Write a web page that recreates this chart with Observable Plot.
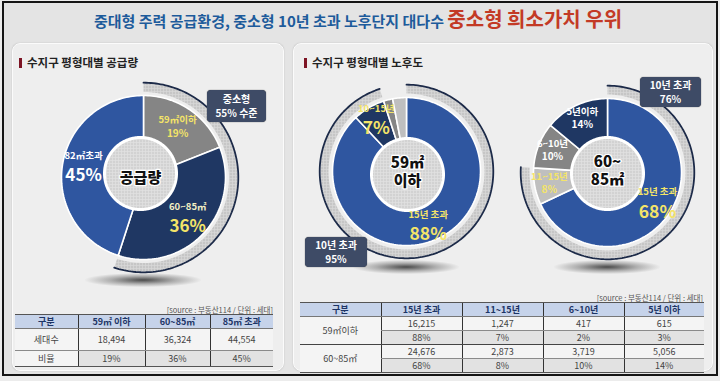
<!DOCTYPE html>
<html><head><meta charset="utf-8">
<script src="https://cdn.jsdelivr.net/npm/d3@7"></script>
<script src="https://cdn.jsdelivr.net/npm/@observablehq/plot@0.6"></script>
<style>
body{margin:0;width:720px;height:381px;overflow:hidden;background:#ececec;font-family:"Noto Sans CJK KR","Noto Sans",sans-serif;position:relative;}
.abs{position:absolute;}
#frame{left:2px;top:1px;width:716px;height:375px;border:2px solid #151515;box-sizing:border-box;background:#e4e4e4;}
.panel{background:#eeeeee;border:1.5px solid #fbfbfb;border-radius:8px;box-sizing:border-box;box-shadow:0 0 1.5px #b8b8b8;}
#title{left:0;top:5px;width:716px;text-align:center;font-weight:700;white-space:nowrap;line-height:28px;}
#title .b{color:#1d5b9b;font-size:15px;}
#title .r{color:#c33a25;font-size:20px;}
.head{font-size:11.5px;font-weight:700;color:#222;white-space:nowrap;line-height:14px;}
.head i{display:inline-block;width:3px;height:10px;background:#7d1424;margin-right:5px;vertical-align:-1px;}
.box{background:#3e4b66;border-radius:4px;color:#fff;font-size:10px;font-weight:700;text-align:center;display:flex;flex-direction:column;justify-content:center;line-height:14px;box-shadow:0 0 1px #222;}
.shadow{background:radial-gradient(ellipse at center, rgba(20,20,20,0.75) 0%, rgba(60,60,60,0.35) 40%, rgba(200,200,200,0) 72%);}
.src{font-size:7.5px;color:#555;white-space:nowrap;text-align:right;}
table{border-collapse:collapse;font-size:9px;color:#444;text-align:center;table-layout:fixed;}
table th{background-color:#c6d3ea;color:#1d3566;font-weight:700;border-top:1.5px solid #555;border-bottom:1px solid #777;padding:0;}
table td{padding:0;border-bottom:1px solid #8a8a8a;}
table th+th, table td+td{border-left:1px solid #333;}
table tr.last td{border-bottom:1.5px solid #555;}
td.n{background:#f4f4f4;} td.p{background:#e2e2e2;} td.k{background:#f4f4f4;}
</style></head>
<body>
<svg width="0" height="0" style="position:absolute">
 <defs>
  <pattern id="hatchRing" width="3" height="3" patternUnits="userSpaceOnUse">
   <rect width="3" height="3" fill="#cfcfcf"/>
   <rect width="1" height="1" fill="#a4a4a4"/>
   <rect x="1.5" y="1.5" width="1" height="1" fill="#efefef"/>
  </pattern>
  <pattern id="hatchHole" width="3" height="3" patternUnits="userSpaceOnUse">
   <rect width="3" height="3" fill="#dadada"/>
   <rect width="1" height="1" fill="#b4b4b4"/>
   <rect x="1.5" y="1.5" width="1" height="1" fill="#f4f4f4"/>
  </pattern>
 </defs>
</svg>
<div id="frame" class="abs"></div>
<div class="abs panel" style="left:12px;top:43px;width:272px;height:328px"></div>
<div class="abs panel" style="left:293px;top:43px;width:420px;height:328px"></div>
<div id="title" class="abs"><span class="b">중대형 주력 공급환경, 중소형 10년 초과 노후단지 대다수 </span><span class="r">중소형 희소가치 우위</span></div>
<div class="abs head" style="left:19px;top:55px"><i></i>수지구 평형대별 공급량</div>
<div class="abs head" style="left:304px;top:55px"><i></i>수지구 평형대별 노후도</div>
<div class="abs shadow" style="left:85px;top:273px;width:116px;height:14px"></div>
<div class="abs shadow" style="left:353px;top:260px;width:106px;height:14px"></div>
<div class="abs shadow" style="left:554px;top:260px;width:106px;height:14px"></div>
<div id="d1" class="abs" style="left:23px;top:62px"></div>
<div id="d2" class="abs" style="left:306px;top:71px"></div>
<div id="d3" class="abs" style="left:507px;top:72px"></div>
<div id="b1" class="abs box" style="left:207px;top:90px;width:59px;height:32px"></div>
<div id="b2" class="abs box" style="left:305px;top:237px;width:62px;height:30px"></div>
<div id="b3" class="abs box" style="left:640px;top:77px;width:61px;height:30px"></div>
<div class="abs src" style="left:100px;top:304px;width:173px">[source : 부동산114 / 단위 : 세대]</div>
<div class="abs src" style="left:500px;top:292px;width:203px">[source : 부동산114 / 단위 : 세대]</div>
<div id="t1" class="abs" style="left:15px;top:314px"></div>
<div id="t2" class="abs" style="left:300px;top:302px"></div>
<script>
// ---- data ----
const supplyCats = ["59㎡이하", "60~85㎡", "82㎡초과"];
const supplyShares = [19, 36, 45];
const supplyTableCols = ["59㎡ 이하", "60~85㎡", "85㎡ 초과"];
const supplyUnits = [18494, 36324, 44554];

const ageCats = ["15년 초과", "11~15년", "6~10년", "5년 이하"];
const age59Labels = ["15년 초과", "10~15년", "", ""];
const age59Units = [16215, 1247, 417, 615];
const age59Shares = [88, 7, 2, 3];
const age85Labels = ["15년 초과", "11~15년", "6~10년", "5년이하"];
const age85Units = [24676, 2873, 3719, 5056];
const age85Shares = [68, 8, 10, 14];
const sizeGroups = ["59㎡이하", "60~85㎡"];

// ---- styles ----
const BLUE = "#2f56a0", NAVY = "#1f3763", GRAY = "#858585", LGRAY = "#bfbfbf";
const TONE = {yellow: "#f4e468", pale: "#f4f0c4", white: "#ffffff"};

const rad = d => d * Math.PI / 180;
const toXY = (r, deg) => [r * Math.sin(rad(deg)), -r * Math.cos(rad(deg))];
function arcPts(r, a0, a1) {
  const n = Math.max(2, Math.ceil(Math.abs(a1 - a0) / 1.5));
  return d3.range(n + 1).map(i => toXY(r, a0 + (a1 - a0) * i / n));
}

function donut(o) {
  const total = d3.sum(o.shares);
  let acc = 0;
  const slices = o.shares.map((s, i) => {
    const a0 = acc / total * 360; acc += s; const a1 = acc / total * 360;
    return {cat: o.cats[i], share: s, a0, a1, mid: (a0 + a1) / 2, name: o.names[i],
            nameTone: o.nameTones[i], pctTone: o.pctTones[i], big: o.big[i]};
  });
  const slicePts = slices.flatMap(d => [[0, 0], ...arcPts(o.R, d.a0, d.a1)].map(([x, y]) => ({cat: d.cat, x, y})));
  const ringEnd = slices[o.ringN - 1].a1;
  const ringPts = [...arcPts(o.ringOut, 0, ringEnd), ...arcPts(o.ringIn, 0, ringEnd).reverse()].map(([x, y]) => ({x, y}));
  const ringEdge = arcPts(o.ringOut + 0.8, 0, ringEnd).map(([x, y]) => ({x, y}));
  const holePts = arcPts(o.holeR, 0, 360).map(([x, y]) => ({x: x + o.holeDx, y: y + o.holeDy}));
  const labels = slices.filter(d => d.name).map(d => {
    const [x, y] = toXY(o.R * o.labelK, d.mid);
    return {...d, x, y, pct: d.share + "%"};
  });
  const marks = [
    Plot.line(ringPts, {x: "x", y: "y", curve: "linear-closed", fill: "url(#hatchRing)", stroke: "none"}),
    Plot.line(ringEdge, {x: "x", y: "y", stroke: "#1c2a48", strokeWidth: 1.8}),
    Plot.line(slicePts, {x: "x", y: "y", z: "cat", fill: "cat", curve: "linear-closed", stroke: "white", strokeWidth: 1.6}),
    Plot.line(holePts, {x: "x", y: "y", curve: "linear-closed", fill: "url(#hatchHole)", stroke: "white", strokeWidth: 3})
  ];
  for (const tone of Object.keys(TONE)) {
    for (const big of [true, false]) {
      marks.push(Plot.text(labels, {filter: d => d.nameTone === tone && d.big === big, x: "x", y: "y", text: "name",
        dy: big ? -12 : -7, fill: TONE[tone], fontSize: 9.5, fontWeight: 700}));
      marks.push(Plot.text(labels, {filter: d => d.pctTone === tone && d.big === big, x: "x", y: "y", text: "pct",
        dy: big ? 8 : 6, fill: TONE[tone], fontSize: big ? o.bigSize : 10, fontWeight: 700}));
    }
  }
  marks.push(Plot.text([o.center], {x: () => o.holeDx, y: () => o.holeDy + o.centerDy, text: d => d, fill: "#111", stroke: "white",
    strokeWidth: 2.5, fontSize: 15, fontWeight: 900, lineHeight: 1.2}));
  return Plot.plot({
    width: o.w, height: o.h, margin: 0,
    x: {domain: [-o.w / 2, o.w / 2], range: [0, o.w], axis: null},
    y: {domain: [-o.h / 2, o.h / 2], range: [0, o.h], axis: null},
    color: {type: "ordinal", domain: o.cats, range: o.colors},
    style: {background: "transparent", overflow: "visible", fontFamily: "Noto Sans CJK KR"},
    marks
  });
}

document.getElementById("d1").append(donut({
  cats: supplyCats, shares: supplyShares, names: supplyCats, colors: [GRAY, NAVY, BLUE],
  nameTones: ["yellow", "pale", "white"], pctTones: ["yellow", "yellow", "white"], big: [false, true, true],
  ringN: 2, R: 82, ringIn: 85.5, ringOut: 94, holeR: 36, holeDx: -3, holeDy: -4, labelK: 0.74, bigSize: 17,
  center: "공급량", centerDy: 4, w: 240, h: 230
}));
document.getElementById("d2").append(donut({
  cats: ageCats, shares: age59Shares, names: age59Labels, colors: [BLUE, NAVY, GRAY, LGRAY],
  nameTones: ["yellow", "yellow", "yellow", "yellow"], pctTones: ["yellow", "yellow", "yellow", "yellow"], big: [true, true, false, false],
  ringN: 2, R: 74, ringIn: 78, ringOut: 86, holeR: 36, holeDx: 1, holeDy: 3, labelK: 0.8, bigSize: 17.5,
  center: "59㎡\n이하", centerDy: -3, w: 200, h: 200
}));
document.getElementById("d3").append(donut({
  cats: ageCats, shares: age85Shares, names: age85Labels, colors: [BLUE, LGRAY, GRAY, NAVY],
  nameTones: ["yellow", "yellow", "white", "white"], pctTones: ["yellow", "yellow", "white", "white"], big: [true, false, false, false],
  ringN: 2, R: 74, ringIn: 78, ringOut: 86, holeR: 36, holeDx: 0, holeDy: 1, labelK: 0.8, bigSize: 17.5,
  center: "60~\n85㎡", centerDy: -3, w: 200, h: 200
}));

document.getElementById("b1").innerHTML = `<div>중소형</div><div>${supplyShares[0] + supplyShares[1]}% 수준</div>`;
document.getElementById("b2").innerHTML = `<div>10년 초과</div><div>${age59Shares[0] + age59Shares[1]}%</div>`;
document.getElementById("b3").innerHTML = `<div>10년 초과</div><div>${age85Shares[0] + age85Shares[1]}%</div>`;

const fmt = d3.format(",");
// left table
{
  const widths = [63, 67, 65, 63];
  let h = `<table style="width:258px"><colgroup>${widths.map(w => `<col style="width:${w}px">`).join("")}</colgroup>`;
  h += `<tr style="height:13px">${["구분", ...supplyTableCols].map(c => `<th>${c}</th>`).join("")}</tr>`;
  h += `<tr style="height:22px"><td class="k">세대수</td>${supplyUnits.map(v => `<td class="n">${fmt(v)}</td>`).join("")}</tr>`;
  h += `<tr class="last" style="height:16px"><td class="k">비율</td>${supplyShares.map(v => `<td class="p">${v}%</td>`).join("")}</tr>`;
  h += `</table>`;
  document.getElementById("t1").innerHTML = h;
}
// right table
{
  const widths = [81, 81, 81, 81, 80];
  let h = `<table style="width:404px"><colgroup>${widths.map(w => `<col style="width:${w}px">`).join("")}</colgroup>`;
  h += `<tr style="height:12px">${["구분", ...ageCats].map(c => `<th>${c}</th>`).join("")}</tr>`;
  [[age59Units, age59Shares], [age85Units, age85Shares]].forEach(([u, s], gi) => {
    h += `<tr style="height:13px"><td class="k" rowspan="2" style="border-bottom:${gi ? "1.5px solid #555" : "1px solid #444"}">${sizeGroups[gi]}</td>${u.map(v => `<td class="n">${fmt(v)}</td>`).join("")}</tr>`;
    h += `<tr style="height:13px" class="${gi ? "last" : ""}">${s.map((v, i) => `<td class="p" style="${i === 0 ? "border-left:1px solid #333;" : ""}${gi ? "" : "border-bottom:1px solid #444"}">${v}%</td>`).join("")}</tr>`;
  });
  h += `</table>`;
  document.getElementById("t2").innerHTML = h;
}
</script>
</body></html>
